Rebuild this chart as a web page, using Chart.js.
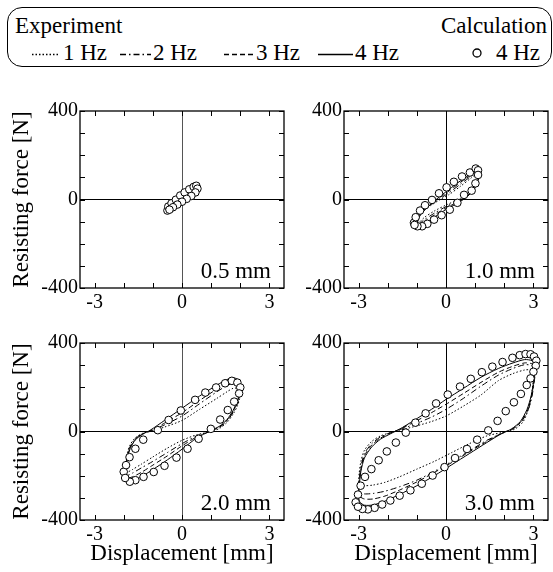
<!DOCTYPE html>
<html>
<head>
<meta charset="utf-8">
<script src="https://cdn.jsdelivr.net/npm/chart.js@4.4.0/dist/chart.umd.min.js"></script>
<style>
  body { margin: 0; background: #fff; width: 553px; height: 572px; position: relative; overflow: hidden;
         font-family: "Liberation Serif", "Times New Roman", serif; }
  #legend { position: absolute; left: 7px; top: 7px; width: 545px; height: 60px; border: 1.3px solid #000;
            border-radius: 15px; box-sizing: border-box; }
  .lg { position: absolute; font-size: 23px; line-height: 23px; white-space: nowrap; color: #000; }
  canvas { position: absolute; }
  svg { position: absolute; left: 0; top: 0; }
</style>
</head>
<body>
<div id="legend"></div>
<canvas id="p05" width="290" height="218" style="left:0;top:97px"></canvas>
<canvas id="p10" width="263" height="218" style="left:290px;top:97px"></canvas>
<canvas id="p20" width="290" height="243" style="left:0;top:329px"></canvas>
<canvas id="p30" width="263" height="243" style="left:290px;top:329px"></canvas>
<script>
// Achsen und Beschriftungen
const xTickValues = [-3, -2, -1, 0, 1, 2, 3];
const yTickValues = [-400, -300, -200, -100, 0, 100, 200, 300, 400];
const xTickLabels = [-3, 0, 3];
const yTickLabels = [-400, 0, 400];
const panelLabels = ['0.5 mm', '1.0 mm', '2.0 mm', '3.0 mm'];
const freqLabels = ['1 Hz', '2 Hz', '3 Hz', '4 Hz'];

// 0.5 mm  [Verschiebung mm, Kraft N]
const exp05_1Hz = [[-0.52,-50],[-0.47,-37],[-0.35,-19],[-0.15,0],[0.10,19],[0.35,37],[0.50,45],[0.52,34],[0.40,20],[0.20,5],[0.00,-9],[-0.25,-27],[-0.45,-44],[-0.52,-50]];
const exp05_2Hz = [[-0.53,-55],[-0.48,-40],[-0.35,-20],[-0.15,1],[0.10,22],[0.35,41],[0.50,49],[0.52,36],[0.40,20],[0.20,4],[0.00,-11],[-0.25,-31],[-0.45,-48],[-0.53,-55]];
const exp05_3Hz = [[-0.54,-58],[-0.49,-42],[-0.35,-20],[-0.15,2],[0.10,25],[0.35,44],[0.50,52],[0.52,38],[0.40,20],[0.20,3],[0.00,-13],[-0.25,-34],[-0.45,-52],[-0.54,-58]];
const exp05_4Hz = [[-0.55,-62],[-0.50,-45],[-0.35,-22],[-0.15,2],[0.10,28],[0.35,48],[0.50,56],[0.52,40],[0.40,20],[0.20,2],[0.00,-15],[-0.25,-38],[-0.45,-56],[-0.55,-62]];
const calc05 = [[-0.50,-50],[-0.47,-32],[-0.36,-17],[-0.21,-1],[-0.06,18],[0.09,32],[0.25,46],[0.40,57],[0.49,62],[0.53,49],[0.46,32],[0.32,16],[0.16,3],[0.00,-10],[-0.16,-23],[-0.31,-35],[-0.43,-46]];

// 1.0 mm
const exp10_1Hz = [[-1.00,-115],[-0.98,-92],[-0.90,-68],[-0.72,-45],[-0.50,-25],[-0.20,0],[0.10,22],[0.50,60],[0.85,96],[1.05,116],[1.12,112],[1.12,92],[1.05,64],[0.90,35],[0.65,12],[0.35,-5],[0.00,-25],[-0.40,-52],[-0.75,-82],[-0.95,-108],[-1.00,-115]];
const exp10_2Hz = [[-1.00,-120],[-0.98,-96],[-0.90,-70],[-0.72,-45],[-0.50,-22],[-0.20,5],[0.10,30],[0.50,70],[0.85,104],[1.05,122],[1.12,118],[1.12,96],[1.05,66],[0.90,35],[0.65,10],[0.35,-10],[0.00,-32],[-0.40,-62],[-0.75,-92],[-0.95,-114],[-1.00,-120]];
const exp10_3Hz = [[-1.00,-125],[-0.98,-100],[-0.90,-72],[-0.72,-45],[-0.50,-20],[-0.20,10],[0.10,38],[0.50,78],[0.85,110],[1.05,127],[1.12,122],[1.12,100],[1.05,68],[0.90,35],[0.65,8],[0.35,-15],[0.00,-38],[-0.40,-70],[-0.75,-100],[-0.95,-120],[-1.00,-125]];
const exp10_4Hz = [[-1.00,-130],[-0.98,-105],[-0.90,-75],[-0.72,-45],[-0.50,-18],[-0.20,15],[0.10,45],[0.50,85],[0.85,115],[1.05,132],[1.12,128],[1.12,105],[1.05,70],[0.90,35],[0.65,5],[0.35,-20],[0.00,-45],[-0.40,-80],[-0.75,-112],[-0.95,-128],[-1.00,-130]];
const calc10 = [[-1.10,-105],[-1.04,-80],[-0.89,-50],[-0.72,-26],[-0.48,-2],[-0.24,28],[0.02,55],[0.27,80],[0.55,104],[0.82,122],[1.02,140],[1.10,132],[1.10,111],[1.01,73],[0.88,40],[0.62,21],[0.39,-15],[0.13,-46],[-0.15,-71],[-0.41,-91],[-0.64,-110],[-0.82,-121],[-0.98,-121],[-1.08,-115]];

// 2.0 mm
const exp20_1Hz = [[-1.95,-190],[-1.93,-150],[-1.88,-100],[-1.78,-60],[-1.60,-28],[-1.35,-8],[-1.10,0],[-0.60,20],[0.00,50],[0.60,100],[1.20,150],[1.55,180],[1.75,195],[1.92,195],[2.00,180],[1.98,150],[1.90,115],[1.75,78],[1.55,42],[1.30,15],[1.00,0],[0.50,-15],[0.00,-40],[-0.50,-75],[-1.00,-115],[-1.40,-148],[-1.70,-172],[-1.88,-185],[-1.95,-190]];
const exp20_2Hz = [[-1.95,-205],[-1.93,-160],[-1.88,-110],[-1.78,-68],[-1.60,-32],[-1.35,-10],[-1.10,2],[-0.60,30],[0.00,70],[0.60,125],[1.20,180],[1.55,208],[1.75,218],[1.92,212],[2.00,192],[1.98,162],[1.90,125],[1.75,85],[1.55,48],[1.30,20],[1.00,2],[0.50,-20],[0.00,-55],[-0.50,-95],[-1.00,-135],[-1.40,-165],[-1.70,-188],[-1.88,-200],[-1.95,-205]];
const exp20_3Hz = [[-1.95,-215],[-1.93,-170],[-1.88,-118],[-1.78,-72],[-1.60,-35],[-1.35,-12],[-1.10,2],[-0.60,38],[0.00,85],[0.60,140],[1.20,192],[1.55,218],[1.75,228],[1.92,222],[2.00,200],[1.98,170],[1.90,132],[1.75,90],[1.55,52],[1.30,22],[1.00,3],[0.50,-25],[0.00,-65],[-0.50,-110],[-1.00,-152],[-1.40,-185],[-1.70,-205],[-1.88,-212],[-1.95,-215]];
const exp20_4Hz = [[-1.95,-225],[-1.93,-180],[-1.88,-125],[-1.78,-78],[-1.60,-38],[-1.35,-12],[-1.10,5],[-0.60,50],[0.00,105],[0.60,160],[1.20,210],[1.55,235],[1.75,243],[1.92,235],[2.00,212],[1.98,180],[1.90,140],[1.75,95],[1.55,55],[1.30,25],[1.00,5],[0.50,-30],[0.00,-80],[-0.50,-128],[-1.00,-172],[-1.40,-205],[-1.70,-225],[-1.88,-232],[-1.95,-225]];
const calc20 = [[-2.00,-182],[-1.92,-152],[-1.80,-116],[-1.60,-78],[-1.33,-37],[-0.83,6],[-0.46,52],[-0.04,95],[0.45,143],[0.80,176],[1.17,199],[1.48,218],[1.71,229],[1.90,221],[2.00,199],[1.96,172],[1.79,135],[1.57,97],[1.31,54],[0.99,12],[0.57,-33],[0.19,-78],[-0.19,-118],[-0.60,-155],[-0.97,-183],[-1.32,-205],[-1.60,-220],[-1.79,-227],[-1.95,-210]];

// 3.0 mm
const exp30_1Hz = [[-3.00,-230],[-2.98,-190],[-2.92,-135],[-2.80,-85],[-2.55,-45],[-2.25,-20],[-1.90,-5],[-1.60,5],[-1.10,22],[-0.50,45],[0.00,70],[0.60,115],[1.20,165],[1.80,230],[2.30,262],[2.70,278],[2.90,278],[3.00,262],[3.00,240],[2.95,180],[2.85,110],[2.65,45],[2.35,10],[1.90,-5],[1.40,-20],[0.80,-55],[0.20,-95],[-0.40,-135],[-1.00,-170],[-1.60,-205],[-2.10,-230],[-2.50,-242],[-2.80,-245],[-2.95,-240],[-3.00,-230]];
const exp30_2Hz = [[-3.00,-265],[-2.98,-220],[-2.92,-160],[-2.80,-100],[-2.55,-55],[-2.25,-25],[-1.90,-5],[-1.60,8],[-1.10,32],[-0.50,65],[0.00,100],[0.60,150],[1.20,205],[1.80,255],[2.30,285],[2.70,302],[2.95,298],[3.05,280],[3.05,250],[3.00,198],[2.92,140],[2.78,85],[2.55,38],[2.25,8],[1.90,-10],[1.40,-40],[0.80,-88],[0.20,-135],[-0.40,-180],[-1.00,-220],[-1.60,-250],[-2.10,-270],[-2.50,-280],[-2.80,-282],[-2.95,-275],[-3.00,-265]];
const exp30_3Hz = [[-3.00,-285],[-2.98,-235],[-2.92,-170],[-2.80,-110],[-2.55,-62],[-2.25,-30],[-1.90,-7],[-1.60,10],[-1.10,42],[-0.50,85],[0.00,123],[0.60,172],[1.20,222],[1.80,268],[2.30,295],[2.70,310],[2.95,306],[3.05,288],[3.05,258],[3.00,205],[2.92,148],[2.78,90],[2.55,40],[2.25,10],[1.90,-8],[1.40,-45],[0.80,-92],[0.20,-140],[-0.40,-185],[-1.00,-228],[-1.60,-265],[-2.10,-292],[-2.50,-305],[-2.80,-305],[-2.95,-295],[-3.00,-285]];
const exp30_4Hz = [[-3.00,-300],[-2.98,-250],[-2.92,-180],[-2.80,-120],[-2.55,-70],[-2.25,-35],[-1.90,-10],[-1.60,10],[-1.10,50],[-0.50,100],[0.00,145],[0.60,195],[1.20,245],[1.80,285],[2.30,310],[2.70,325],[2.95,320],[3.05,300],[3.05,270],[3.00,220],[2.92,160],[2.78,100],[2.55,45],[2.25,12],[1.90,-10],[1.40,-50],[0.80,-100],[0.20,-150],[-0.40,-200],[-1.00,-245],[-1.60,-285],[-2.10,-315],[-2.50,-332],[-2.80,-333],[-2.95,-320],[-3.00,-300]];
const calc30 = [[-3.10,-320],[-3.02,-285],[-2.93,-245],[-2.78,-205],[-2.56,-170],[-2.31,-130],[-2.03,-90],[-1.72,-50],[-1.38,-5],[-1.05,40],[-0.70,82],[-0.34,127],[0.06,167],[0.48,203],[0.85,238],[1.23,268],[1.59,293],[1.94,314],[2.28,333],[2.53,345],[2.73,350],[2.90,349],[3.02,339],[3.10,320],[3.08,297],[3.00,270],[2.90,240],[2.77,210],[2.57,170],[2.33,132],[2.05,92],[1.77,48],[1.45,5],[1.07,-37],[0.72,-79],[0.31,-120],[-0.05,-161],[-0.46,-199],[-0.83,-236],[-1.22,-266],[-1.59,-290],[-1.91,-312],[-2.19,-330],[-2.45,-345],[-2.68,-352],[-2.87,-350],[-3.02,-340]];

const FONT = '"Liberation Serif", "Times New Roman", serif';
const dashes = [[1.5, 2], [6, 3, 1.5, 3], [5, 3], []];

const panels = [
  { id: 'p05', label: panelLabels[0], exp: [exp05_1Hz, exp05_2Hz, exp05_3Hz, exp05_4Hz], calc: calc05, left: true,  bottom: false },
  { id: 'p10', label: panelLabels[1], exp: [exp10_1Hz, exp10_2Hz, exp10_3Hz, exp10_4Hz], calc: calc10, left: false, bottom: false },
  { id: 'p20', label: panelLabels[2], exp: [exp20_1Hz, exp20_2Hz, exp20_3Hz, exp20_4Hz], calc: calc20, left: true,  bottom: true },
  { id: 'p30', label: panelLabels[3], exp: [exp30_1Hz, exp30_2Hz, exp30_3Hz, exp30_4Hz], calc: calc30, left: false, bottom: true }
];

const toXY = arr => arr.map(([x, y]) => ({ x, y }));

// Rahmen, Innenticks und Amplitudenbeschriftung
const framePlugin = {
  id: 'frame',
  afterDatasetsDraw(chart, args, opts) {
    const { ctx, chartArea: a, scales } = chart;
    ctx.save();
    ctx.strokeStyle = '#000';
    ctx.lineWidth = 1.3;
    ctx.strokeRect(a.left, a.top, a.right - a.left, a.bottom - a.top);
    ctx.lineWidth = 1;
    ctx.beginPath();
    scales.x.ticks.forEach(t => {
      const px = Math.round(scales.x.getPixelForValue(t.value)) + 0.5;
      ctx.moveTo(px, a.bottom); ctx.lineTo(px, a.bottom - 5);
      ctx.moveTo(px, a.top); ctx.lineTo(px, a.top + 5);
    });
    scales.y.ticks.forEach(t => {
      const py = Math.round(scales.y.getPixelForValue(t.value)) + 0.5;
      ctx.moveTo(a.left, py); ctx.lineTo(a.left + 5, py);
      ctx.moveTo(a.right, py); ctx.lineTo(a.right - 5, py);
    });
    ctx.stroke();
    ctx.fillStyle = '#000';
    ctx.font = '23px ' + FONT;
    ctx.textAlign = 'right';
    ctx.textBaseline = 'alphabetic';
    ctx.fillText(opts.label, a.right - 13, a.bottom - 10);
    ctx.restore();
  }
};

function makePanel(p) {
  const yW = p.left ? 80 : 54;
  const xH = p.bottom ? 52 : 27;
  const zeroX = p.left ? '#555' : '#000';
  const datasets = [{
    data: toXY(p.calc), showLine: false, order: 0,
    pointStyle: 'circle', pointRadius: 3.8, borderWidth: 1,
    borderColor: '#000', backgroundColor: '#fff'
  }];
  p.exp.forEach((loop, i) => {
    datasets.push({
      data: toXY(loop), showLine: true, order: 1, pointRadius: 0,
      borderColor: '#000', borderWidth: 1, borderDash: dashes[i],
      borderCapStyle: 'butt', tension: 0.25, fill: false
    });
  });
  new Chart(document.getElementById(p.id), {
    type: 'scatter',
    data: { datasets },
    options: {
      responsive: false,
      animation: false,
      devicePixelRatio: 1,
      layout: { padding: { top: 13, right: p.left ? 6 : 4, left: 0, bottom: 0 } },
      plugins: {
        legend: { display: false },
        tooltip: { enabled: false },
        frame: { label: p.label }
      },
      scales: {
        x: {
          type: 'linear', min: -3.5, max: 3.5,
          afterBuildTicks: s => { s.ticks = xTickValues.map(v => ({ value: v })); },
          afterFit: s => { s.height = xH; },
          ticks: {
            autoSkip: false, maxRotation: 0,
            padding: 3, color: '#000', font: { family: FONT, size: 20 },
            callback: v => xTickLabels.includes(v) ? String(v) : ''
          },
          grid: {
            drawTicks: false, lineWidth: 1,
            color: c => (c.tick && c.tick.value === 0) ? zeroX : 'rgba(0,0,0,0)'
          },
          border: { display: false },
          title: {
            display: p.bottom, text: 'Displacement [mm]', color: '#000',
            font: { family: FONT, size: 23 }, padding: { top: 0, bottom: 4 }
          }
        },
        y: {
          type: 'linear', min: -400, max: 400,
          afterBuildTicks: s => { s.ticks = yTickValues.map(v => ({ value: v })); },
          afterFit: s => { s.width = yW; },
          ticks: {
            autoSkip: false,
            padding: 2, color: '#000', font: { family: FONT, size: 20 },
            callback: v => yTickLabels.includes(v) ? String(v) : ''
          },
          grid: {
            drawTicks: false, lineWidth: 1,
            color: c => (c.tick && c.tick.value === 0) ? '#000' : 'rgba(0,0,0,0)'
          },
          border: { display: false },
          title: {
            display: p.left, text: 'Resisting force [N]', color: '#000',
            font: { family: FONT, size: 23 }, padding: { top: 8, bottom: 0 }
          }
        }
      }
    },
    plugins: [framePlugin]
  });
}

panels.forEach(makePanel);

// Legende
function buildLegend() {
  const box = document.getElementById('legend');
  const ns = 'http://www.w3.org/2000/svg';
  const svg = document.createElementNS(ns, 'svg');
  svg.setAttribute('width', '545');
  svg.setAttribute('height', '60');
  box.appendChild(svg);
  const add = (text, left, top, right) => {
    const s = document.createElement('span');
    s.className = 'lg';
    s.textContent = text;
    s.style.top = top + 'px';
    if (right !== undefined) s.style.right = right + 'px'; else s.style.left = left + 'px';
    box.appendChild(s);
  };
  add('Experiment', 7, 6);
  add('Calculation', 0, 6, 4);
  const samples = [[24, 52, 55], [112, 143, 145], [216, 246, 248], [310, 345, 347]];
  freqLabels.forEach((f, i) => {
    const [x0, x1, tx] = samples[i];
    const ln = document.createElementNS(ns, 'line');
    ln.setAttribute('x1', x0); ln.setAttribute('x2', x1);
    ln.setAttribute('y1', 46.5); ln.setAttribute('y2', 46.5);
    ln.setAttribute('stroke', '#000'); ln.setAttribute('stroke-width', '1.5');
    if (dashes[i].length) ln.setAttribute('stroke-dasharray', dashes[i].join(' '));
    svg.appendChild(ln);
    add(f, tx, 33);
  });
  const c = document.createElementNS(ns, 'circle');
  c.setAttribute('cx', 469); c.setAttribute('cy', 45); c.setAttribute('r', 4);
  c.setAttribute('fill', '#fff'); c.setAttribute('stroke', '#000'); c.setAttribute('stroke-width', '1.3');
  svg.appendChild(c);
  add(freqLabels[3], 0, 33, 11);
}
buildLegend();
</script>
</body>
</html>
